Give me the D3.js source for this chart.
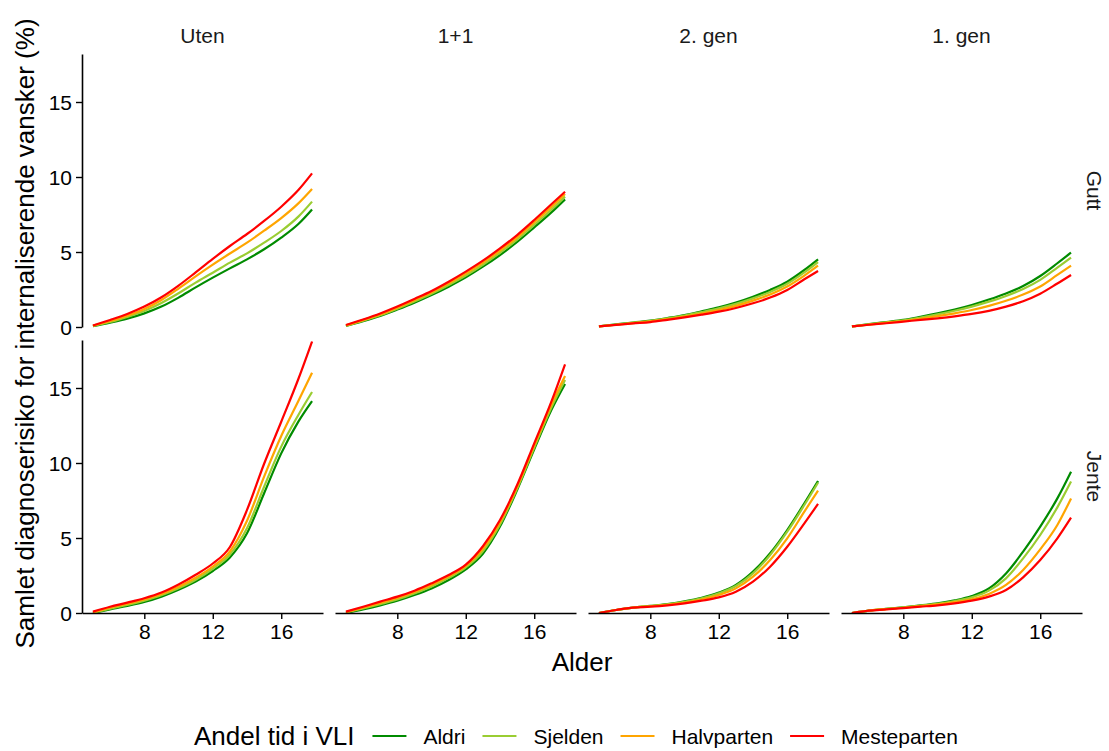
<!DOCTYPE html>
<html>
<head>
<meta charset="utf-8">
<script src="https://cdn.jsdelivr.net/npm/d3@7"></script>
<style>
  body { margin: 0; background: #fff; }
  svg { display: block; font-family: "Liberation Sans", Arial, Helvetica, sans-serif; }
</style>
</head>
<body>
<svg id="chart" width="1109" height="751"></svg>
<script>
// ages on the x axis
var ages = [5, 6, 7, 8, 9, 10, 11, 12, 13, 14, 15, 16, 17, 17.8];

var columns = ['Uten', '1+1', '2. gen', '1. gen'];
var rows = ['Gutt', 'Jente'];
var groups = ['Aldri', 'Sjelden', 'Halvparten', 'Mesteparten'];
var colors = ['#008B00', '#9ACD32', '#FFA500', '#FF0000'];
var xTicks = [8, 12, 16];
var yTicks = [0, 5, 10, 15];

// each facet: [Aldri, Sjelden, Halvparten, Mesteparten]
var guttUten = [
    [0.05, 0.29, 0.56, 0.91, 1.36, 1.96, 2.64, 3.29, 3.91, 4.51, 5.18, 5.96, 6.87, 7.84],
    [0.08, 0.33, 0.67, 1.07, 1.60, 2.25, 2.96, 3.62, 4.29, 4.91, 5.62, 6.40, 7.36, 8.36],
    [0.09, 0.40, 0.76, 1.20, 1.80, 2.56, 3.38, 4.16, 4.90, 5.62, 6.42, 7.26, 8.24, 9.20],
    [0.10, 0.47, 0.87, 1.36, 1.98, 2.76, 3.64, 4.54, 5.40, 6.20, 7.07, 8.02, 9.13, 10.24]
];
var guttEnPlusEn = [
    [0.07, 0.38, 0.73, 1.16, 1.62, 2.13, 2.69, 3.31, 4.02, 4.80, 5.67, 6.64, 7.64, 8.51],
    [0.09, 0.42, 0.78, 1.22, 1.70, 2.22, 2.80, 3.43, 4.15, 4.95, 5.83, 6.81, 7.82, 8.69],
    [0.11, 0.46, 0.84, 1.29, 1.79, 2.31, 2.92, 3.57, 4.29, 5.10, 5.98, 6.98, 8.01, 8.87],
    [0.13, 0.50, 0.90, 1.36, 1.87, 2.40, 3.02, 3.69, 4.42, 5.24, 6.13, 7.13, 8.18, 9.02]
];
var guttAndreGen = [
    [0.04, 0.17, 0.30, 0.42, 0.60, 0.80, 1.05, 1.31, 1.63, 2.02, 2.47, 3.02, 3.80, 4.51],
    [0.04, 0.16, 0.29, 0.40, 0.57, 0.76, 0.99, 1.24, 1.54, 1.91, 2.34, 2.88, 3.64, 4.33],
    [0.04, 0.15, 0.26, 0.37, 0.52, 0.70, 0.90, 1.13, 1.41, 1.76, 2.17, 2.70, 3.43, 4.09],
    [0.04, 0.14, 0.24, 0.33, 0.48, 0.64, 0.82, 1.02, 1.27, 1.58, 1.96, 2.47, 3.18, 3.73]
];
var guttForsteGen = [
    [0.04, 0.19, 0.33, 0.47, 0.68, 0.91, 1.17, 1.47, 1.83, 2.24, 2.73, 3.40, 4.25, 4.96],
    [0.04, 0.18, 0.31, 0.44, 0.63, 0.84, 1.08, 1.36, 1.69, 2.07, 2.53, 3.14, 3.96, 4.62],
    [0.04, 0.16, 0.28, 0.40, 0.55, 0.72, 0.91, 1.13, 1.41, 1.75, 2.16, 2.70, 3.47, 4.09],
    [0.04, 0.15, 0.25, 0.36, 0.47, 0.58, 0.71, 0.87, 1.08, 1.36, 1.72, 2.22, 2.90, 3.47]
];
var jenteUten = [
    [0.00, 0.24, 0.47, 0.73, 1.09, 1.55, 2.10, 2.80, 3.70, 5.31, 7.98, 10.64, 12.76, 14.13],
    [0.02, 0.29, 0.53, 0.82, 1.18, 1.65, 2.22, 2.95, 3.90, 5.65, 8.42, 11.09, 13.20, 14.73],
    [0.04, 0.36, 0.62, 0.91, 1.27, 1.75, 2.35, 3.10, 4.10, 6.15, 9.09, 11.80, 14.13, 16.02],
    [0.09, 0.42, 0.69, 0.98, 1.36, 1.90, 2.55, 3.30, 4.40, 6.87, 9.95, 12.75, 15.60, 18.10]
];
var jenteEnPlusEn = [
    [0.00, 0.24, 0.51, 0.82, 1.20, 1.64, 2.20, 2.91, 3.95, 5.76, 8.20, 10.91, 13.53, 15.27],
    [0.03, 0.30, 0.59, 0.90, 1.30, 1.76, 2.34, 3.04, 4.12, 5.90, 8.30, 11.03, 13.70, 15.53],
    [0.06, 0.36, 0.67, 1.00, 1.40, 1.87, 2.44, 3.14, 4.28, 6.05, 8.42, 11.17, 13.90, 15.80],
    [0.09, 0.42, 0.76, 1.09, 1.49, 1.98, 2.53, 3.22, 4.45, 6.20, 8.53, 11.31, 14.09, 16.58]
];
var jenteAndreGen = [
    [0.00, 0.20, 0.36, 0.47, 0.60, 0.78, 1.02, 1.36, 1.87, 2.76, 3.98, 5.53, 7.31, 8.80],
    [0.00, 0.20, 0.36, 0.46, 0.58, 0.75, 0.98, 1.31, 1.80, 2.64, 3.87, 5.42, 7.20, 8.69],
    [0.00, 0.20, 0.36, 0.45, 0.55, 0.70, 0.90, 1.20, 1.64, 2.42, 3.53, 4.98, 6.76, 8.16],
    [0.00, 0.20, 0.36, 0.42, 0.51, 0.64, 0.82, 1.04, 1.42, 2.09, 3.09, 4.42, 5.98, 7.27]
];
var jenteForsteGen = [
    [0.00, 0.16, 0.27, 0.38, 0.51, 0.64, 0.84, 1.13, 1.64, 2.64, 4.09, 5.76, 7.64, 9.42],
    [0.00, 0.16, 0.27, 0.37, 0.49, 0.61, 0.79, 1.04, 1.49, 2.31, 3.64, 5.20, 7.04, 8.76],
    [0.00, 0.16, 0.26, 0.35, 0.46, 0.57, 0.72, 0.91, 1.27, 1.87, 2.87, 4.24, 5.87, 7.64],
    [0.00, 0.16, 0.24, 0.33, 0.42, 0.51, 0.64, 0.82, 1.09, 1.53, 2.38, 3.53, 4.98, 6.36]
];

var facets = [
    [guttUten, guttEnPlusEn, guttAndreGen, guttForsteGen],
    [jenteUten, jenteEnPlusEn, jenteAndreGen, jenteForsteGen]
];

var svg = d3.select('#chart'),
    panelLeft = 82,
    panelW = 241,
    panelGap = 12,
    rowTop = [54, 340],
    panelH = 273;

var x = d3.scaleLinear().domain([4.36, 18.44]).range([0, panelW]);
var y = d3.scaleLinear().domain([0, 18.2]).range([panelH, 0]);

var line = d3.line()
    .x(function (d) { return x(d[0]); })
    .y(function (d) { return y(d[1]); })
    .curve(d3.curveMonotoneX);

rows.forEach(function (rowName, r) {
    columns.forEach(function (colName, c) {
        var g = svg.append('g')
            .attr('transform', 'translate(' + (panelLeft + c * (panelW + panelGap)) + ',' + rowTop[r] + ')');

        facets[r][c].forEach(function (values, i) {
            g.append('path')
                .datum(ages.map(function (a, k) { return [a, values[k]]; }))
                .attr('d', line)
                .attr('fill', 'none')
                .attr('stroke', colors[i])
                .attr('stroke-width', 2.2);
        });

        // y axis only on first column
        if (c === 0) {
            var ya = g.append('g')
                .call(d3.axisLeft(y).tickValues(yTicks).tickSize(6).tickSizeOuter(0).tickPadding(4));
            styleAxis(ya);
            ya.selectAll('text').attr('dy', '0.36em');
        }
        // x axis only on bottom row
        if (r === rows.length - 1) {
            var xa = g.append('g')
                .attr('transform', 'translate(0,' + panelH + ')')
                .call(d3.axisBottom(x).tickValues(xTicks).tickSize(6).tickSizeOuter(0).tickPadding(5));
            styleAxis(xa);
        }
    });
});

function styleAxis(a) {
    a.select('.domain').attr('stroke', '#000').attr('stroke-width', 1.6);
    a.selectAll('.tick line').attr('stroke', '#000').attr('stroke-width', 1.4);
    a.selectAll('.tick text').attr('fill', '#000').style('font-size', '21px');
    a.attr('font-family', null).attr('font-size', null);
}

// column strips
svg.selectAll('.strip-x').data(columns).enter().append('text')
    .attr('x', function (d, i) { return panelLeft + i * (panelW + panelGap) + panelW / 2; })
    .attr('y', 42.5)
    .attr('text-anchor', 'middle')
    .attr('fill', '#1a1a1a')
    .style('font-size', '21px')
    .text(function (d) { return d; });

// row strips
svg.selectAll('.strip-y').data(rows).enter().append('text')
    .attr('transform', function (d, i) {
        return 'translate(1087,' + (rowTop[i] + panelH / 2) + ') rotate(90)';
    })
    .attr('text-anchor', 'middle')
    .attr('fill', '#1a1a1a')
    .style('font-size', '21px')
    .text(function (d) { return d; });

// axis titles
svg.append('text')
    .attr('transform', 'translate(34,' + ((rowTop[0] + rowTop[1] + panelH) / 2) + ') rotate(-90)')
    .attr('text-anchor', 'middle')
    .style('font-size', '26px')
    .text('Samlet diagnoserisiko for internaliserende vansker (%)');

svg.append('text')
    .attr('x', panelLeft + (4 * panelW + 3 * panelGap) / 2)
    .attr('y', 671)
    .attr('text-anchor', 'middle')
    .style('font-size', '26px')
    .text('Alder');

// legend
var legendY = 736,
    lx = 194;
var title = svg.append('text')
    .attr('x', lx)
    .attr('y', legendY + 9)
    .style('font-size', '26px')
    .text('Andel tid i VLI');
lx += title.node().getComputedTextLength() + 18;

groups.forEach(function (name, i) {
    svg.append('line')
        .attr('x1', lx).attr('x2', lx + 34)
        .attr('y1', legendY).attr('y2', legendY)
        .attr('stroke', colors[i])
        .attr('stroke-width', 2.2);
    lx += 34 + 17;
    var t = svg.append('text')
        .attr('x', lx)
        .attr('y', legendY + 7.5)
        .style('font-size', '21px')
        .text(name);
    lx += t.node().getComputedTextLength() + 17;
});
</script>
</body>
</html>
